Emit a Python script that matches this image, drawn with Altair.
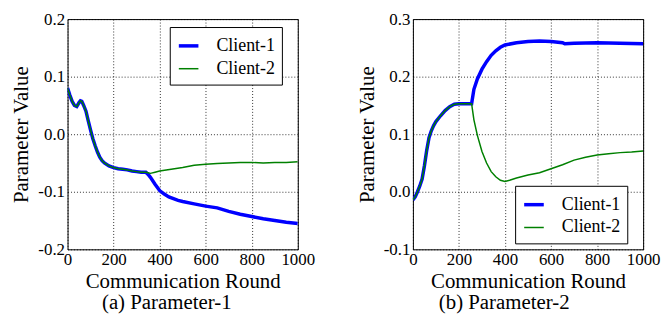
import altair as alt
import pandas as pd

SERIES = ["Client-1", "Client-2"]
COLORS = ["#0000ff", "#008000"]
X_TICKS = [0, 200, 400, 600, 800, 1000]
FONT = "Liberation Serif"

# ---- Parameter-1 ----
p1_shared_x = [0, 10, 20, 30, 40, 50, 56, 62, 70, 80, 90, 100, 110, 120, 130, 140, 150, 160, 180, 200, 220, 240, 260, 280, 300, 320, 340]
p1_shared_y = [0.080, 0.068, 0.057, 0.050, 0.048, 0.055, 0.058, 0.057, 0.050, 0.040, 0.023, 0.007, -0.008, -0.020, -0.031, -0.040, -0.046, -0.050, -0.055, -0.058, -0.060, -0.061, -0.062, -0.064, -0.065, -0.066, -0.066]
p1_c1_x = [350, 360, 380, 400, 420, 440, 460, 480, 500, 550, 600, 650, 700, 750, 800, 850, 900, 950, 1000]
p1_c1_y = [-0.070, -0.075, -0.087, -0.098, -0.104, -0.109, -0.112, -0.115, -0.117, -0.121, -0.125, -0.128, -0.134, -0.139, -0.143, -0.147, -0.150, -0.153, -0.155]
p1_c2_x = [350, 360, 380, 400, 450, 500, 550, 600, 650, 700, 750, 800, 850, 900, 950, 1000]
p1_c2_y = [-0.067, -0.068, -0.066, -0.064, -0.061, -0.058, -0.054, -0.052, -0.051, -0.050, -0.049, -0.049, -0.050, -0.049, -0.049, -0.048]

# ---- Parameter-2 ----
p2_shared_x = [0, 10, 20, 30, 40, 50, 60, 70, 80, 90, 100, 120, 140, 160, 180, 200, 220, 240, 255]
p2_shared_y = [-0.014, -0.009, 0.000, 0.010, 0.022, 0.045, 0.072, 0.094, 0.106, 0.115, 0.122, 0.132, 0.141, 0.148, 0.152, 0.153, 0.153, 0.153, 0.153]
p2_c1_x = [265, 280, 300, 320, 340, 360, 380, 400, 450, 500, 550, 600, 650, 660, 700, 800, 900, 1000]
p2_c1_y = [0.178, 0.196, 0.213, 0.226, 0.237, 0.245, 0.251, 0.255, 0.259, 0.261, 0.262, 0.261, 0.259, 0.257, 0.258, 0.259, 0.258, 0.257]
p2_c2_x = [265, 280, 300, 320, 340, 360, 380, 400, 420, 450, 500, 550, 600, 650, 700, 750, 800, 850, 900, 950, 1000]
p2_c2_y = [0.125, 0.098, 0.070, 0.050, 0.035, 0.026, 0.020, 0.018, 0.020, 0.024, 0.029, 0.033, 0.040, 0.047, 0.055, 0.060, 0.064, 0.066, 0.068, 0.069, 0.071]


def build(sx, sy, x1, y1, x2, y2):
    rows = []
    for x, y in zip(sx + x1, sy + y1):
        rows.append({"series": "Client-1", "round": x, "value": y})
    for x, y in zip(sx + x2, sy + y2):
        rows.append({"series": "Client-2", "round": x, "value": y})
    return pd.DataFrame(rows)


LABEL_EXPR = "(datum.value < -0.0001 ? '-' : '') + format(abs(datum.value), '.1f')"

AXIS_STYLE = dict(
    labelFont=FONT, labelFontSize=17, labelColor="black", labelFlush=False,
    titleFont=FONT, titleFontWeight="normal", titleColor="black",
    ticks=False, domain=False,
    grid=True, gridColor="black", gridDash=[1, 2], gridOpacity=0.8, gridWidth=1,
)


def panel(df, ydom, yvals, lx, ly, title, dx):
    leg = alt.Legend(
        orient="none", legendX=lx, legendY=ly, title=None,
        symbolType="stroke", symbolSize=390, labelFont=FONT,
        labelFontSize=18, labelColor="black", labelOffset=16, labelFontWeight="normal",
        strokeColor="black", fillColor="white", padding=7, rowPadding=3,
        symbolOpacity=1,
    )
    return alt.Chart(df).mark_line(clip=True).encode(
        x=alt.X("round:Q", scale=alt.Scale(domain=[0, 1000], nice=False),
                axis=alt.Axis(values=X_TICKS, title="Communication Round", format="d",
                              titleFontSize=21, titlePadding=3, labelPadding=2, **AXIS_STYLE)),
        y=alt.Y("value:Q", scale=alt.Scale(domain=ydom, nice=False),
                axis=alt.Axis(values=yvals, labelExpr=LABEL_EXPR, title="Parameter Value",
                              titleFontSize=21, titlePadding=6, labelPadding=3, **AXIS_STYLE)),
        color=alt.Color("series:N", scale=alt.Scale(domain=SERIES, range=COLORS), legend=leg),
        strokeWidth=alt.StrokeWidth("series:N", scale=alt.Scale(domain=SERIES, range=[3.5, 1.5]), legend=leg),
    ).properties(
        width=232, height=232,
        title=alt.TitleParams(title, orient="bottom", dx=dx, font=FONT, fontSize=21,
                              fontWeight="normal", color="black", offset=1),
    )


left = panel(build(p1_shared_x, p1_shared_y, p1_c1_x, p1_c1_y, p1_c2_x, p1_c2_y),
             [-0.2, 0.2], [-0.2, -0.1, 0.0, 0.1, 0.2], 103, 8, "(a) Parameter-1", -16)
right = panel(build(p2_shared_x, p2_shared_y, p2_c1_x, p2_c1_y, p2_c2_x, p2_c2_y),
              [-0.1, 0.3], [-0.1, 0.0, 0.1, 0.2, 0.3], 103, 168, "(b) Parameter-2", -24)

chart = alt.hconcat(left, right, spacing=116, bounds="flush").resolve_legend(
    color="independent", strokeWidth="independent"
).resolve_scale(
    color="independent", strokeWidth="independent"
).properties(
    padding={"left": 2, "top": 0, "right": 0, "bottom": 0}
).configure(
    font=FONT
).configure_view(
    stroke="black", strokeWidth=1
)

chart.save("out.html", embed_options={"renderer": "svg", "actions": False})
